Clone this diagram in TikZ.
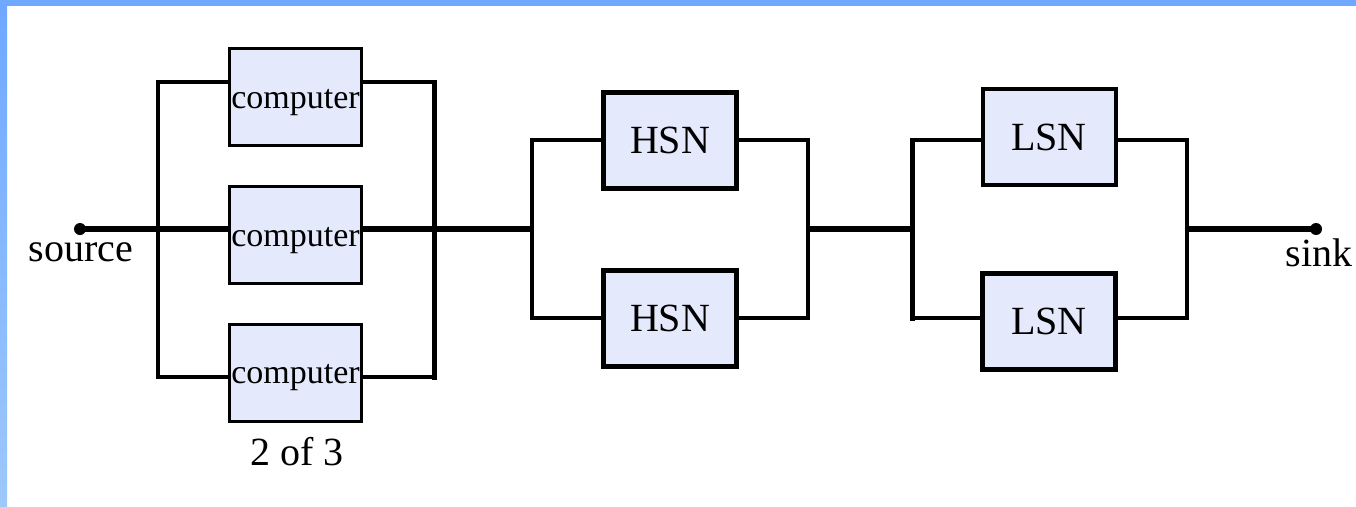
\documentclass[tikz,border=0pt]{standalone}
\usepackage{fontspec}
\setmainfont{Liberation Serif}
\definecolor{boxfill}{RGB}{228,233,252}
\definecolor{bartop}{RGB}{110,168,255}
\definecolor{barbot}{RGB}{158,200,250}
\pgfdeclarelayer{bg}
\pgfdeclarelayer{paper}
\pgfsetlayers{paper,bg,main}
\begin{document}
\begin{tikzpicture}[x=1pt,y=-1pt,
  compbox/.style={draw=black,fill=boxfill,line width=3.5pt,inner sep=0pt,
    minimum width=132pt,minimum height=97pt,text height=22pt,text depth=0pt,
    font=\fontsize{34}{40}\selectfont},
  netbox/.style={draw=black,fill=boxfill,line width=5pt,inner sep=0pt,
    minimum width=133pt,minimum height=96pt,text height=26.6pt,text depth=0pt,
    font=\fontsize{40}{48}\selectfont},
  lbl/.style={anchor=base,inner sep=0pt,font=\fontsize{40}{48}\selectfont},
  dot/.style={circle,fill=black,inner sep=0pt,minimum size=12pt},
  mainline/.style={line width=5.8pt,line cap=butt},
  thinline/.style={line width=3.5pt,line cap=rect},
  medline/.style={line width=5pt,line cap=rect}]
\useasboundingbox (0,0) rectangle (1356,506);
\begin{pgfonlayer}{paper}
\fill[white] (0,0) rectangle (1356,506);
\shade[top color=bartop,bottom color=barbot] (0,0) rectangle (7,506);
\fill[bartop] (0,0) rectangle (1356,6);
\end{pgfonlayer}

% nodes
\node[dot] (src) at (80,229) {};
\node[lbl] (srct) at (81,261.7) {source};
\node[dot] (snk) at (1316,229) {};
\node[lbl] (snkt) at (1319,266) {sink};

\node[compbox] (c1) at (295.5,97) {computer};
\node[compbox] (c2) at (295.5,235) {computer};
\node[compbox] (c3) at (295.5,372.8) {computer};
\node[lbl] (kofn) at (296.7,465) {2 of 3};

\node[netbox] (h1) at (670,140.5) {HSN};
\node[netbox] (h2) at (670,318.5) {HSN};
\node[netbox,line width=4pt] (l1) at (1049,137.2) {LSN};
\node[netbox,line width=5.5pt] (l2) at (1049,321.5) {LSN};

% junction coordinates
\coordinate (Lt) at (158,82);  \coordinate (Lm) at (158,229);  \coordinate (Lb) at (158,377);
\coordinate (Rt) at (434,82);  \coordinate (Rm) at (434,229);  \coordinate (Rb) at (434,377);
\coordinate (HLt) at (532,140); \coordinate (HLm) at (532,229); \coordinate (HLb) at (532,318);
\coordinate (HRt) at (808,140); \coordinate (HRm) at (808,229); \coordinate (HRb) at (808,318);
\coordinate (LLt) at (912,140); \coordinate (LLm) at (912,229); \coordinate (LLb) at (912,318);
\coordinate (LRt) at (1187,140); \coordinate (LRm) at (1187,229); \coordinate (LRb) at (1187,318);

\begin{pgfonlayer}{bg}
% computers (2 of 3)
\draw[thinline] (c1.west |- Lt) -- (Lt) -- (Lb) -- (c3.west |- Lb);
\draw[thinline] (c1.east |- Rt) -- (Rt);
\draw[thinline] (c3.east |- Rb) -- (Rb);
\draw[medline] (Rt) -- (Rb);
\draw[mainline] (src.center) -- (c2.west |- Lm);
\draw[mainline] (c2.east |- Rm) -- (HLm);
% HSN
\draw[thinline] (h1.west |- HLt) -- (HLt) -- (HLb) -- (h2.west |- HLb);
\draw[thinline] (h1.east |- HRt) -- (HRt) -- (HRb) -- (h2.east |- HRb);
\draw[mainline] (HRm) -- (LLm);
% LSN
\draw[thinline] (l1.west |- LLt) -- (LLt);
\draw[thinline] (l2.west |- LLb) -- (LLb);
\draw[medline] (LLt) -- (LLb);
\draw[thinline] (l1.east |- LRt) -- (LRt) -- (LRb) -- (l2.east |- LRb);
\draw[mainline] (LRm) -- (snk.center);
\end{pgfonlayer}
\end{tikzpicture}
\end{document}
